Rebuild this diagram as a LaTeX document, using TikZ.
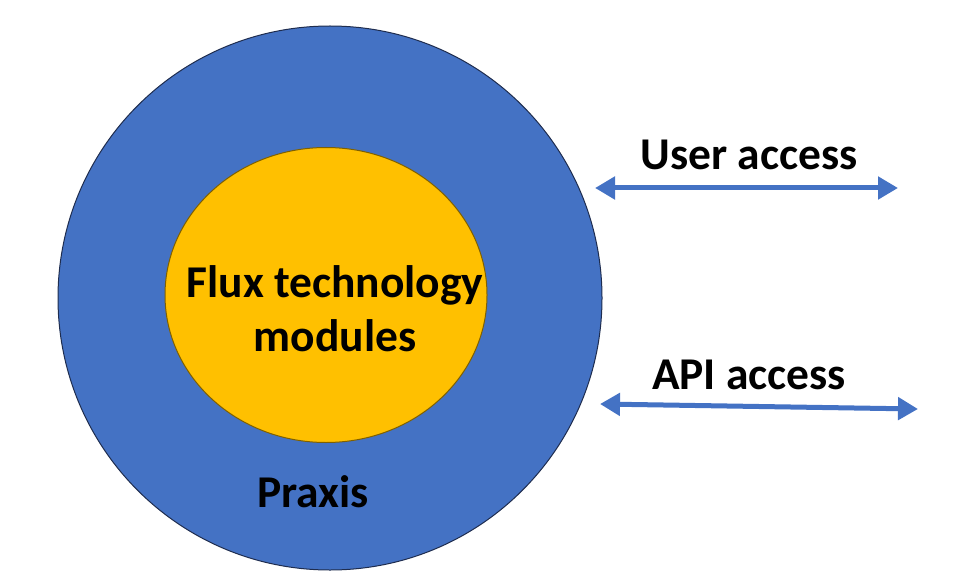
\documentclass[tikz,border=0pt]{standalone}
\usepackage{fontspec}
\setmainfont{Carlito}
\usetikzlibrary{arrows.meta,shapes.geometric}
\definecolor{oblue}{HTML}{4472C4}
\definecolor{oorange}{HTML}{FFC000}
\definecolor{navy}{HTML}{1F2D4F}
\definecolor{brownline}{HTML}{7F6000}
\tikzset{
  lbl/.style={font=\fontsize{45.5}{54}\selectfont\bfseries, text=black, align=center, inner sep=0pt},
  dbl/.style={draw=oblue, line width=5pt, {Triangle[length=20pt,width=22pt]}-{Triangle[length=20pt,width=22pt]}}
}
\begin{document}
\begin{tikzpicture}[x=1pt,y=-1pt]
\useasboundingbox (0,0) rectangle (955,580);
\node[circle, draw=navy, line width=1pt, fill=oblue, minimum size=544pt, inner sep=0pt] (outer) at (330,298) {};
\node[ellipse, draw=brownline, line width=1pt, fill=oorange, minimum width=322pt, minimum height=295pt, inner sep=0pt] (inner) at (326,295) {};
\node[lbl] (flux) at (335,309) {Flux technology\\modules};
\node[lbl] (praxis) at (313,492) {Praxis};
\node[lbl] (user) at (749,155) {User access};
\node[lbl] (api) at (749,375) {API access};
\coordinate (u1) at (595,188);
\coordinate (u2) at (898,188);
\coordinate (a1) at (600,404);
\coordinate (a2) at (918,409);
\draw[dbl] (u1) -- (u2);
\draw[dbl] (a1) -- (a2);
\end{tikzpicture}
\end{document}
